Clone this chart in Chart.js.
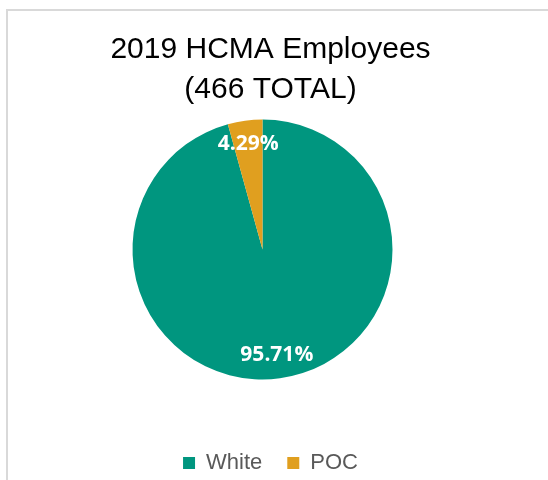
<!DOCTYPE html>
<html>
<head>
<meta charset="utf-8">
<script src="https://cdn.jsdelivr.net/npm/chart.js@4/dist/chart.umd.min.js"></script>
<style>
  html, body { margin: 0; padding: 0; background: #fff; }
  #wrap { position: relative; width: 548px; height: 480px; overflow: hidden; }
  #frame {
    position: absolute; left: 6px; top: 9px; width: 600px; height: 600px;
    border-left: 2px solid #d9d9d9; border-top: 2px solid #d9d9d9;
  }
  #chart { position: absolute; left: 0; top: 0; }
</style>
</head>
<body>
<div id="wrap">
  <div id="frame"></div>
  <canvas id="chart" width="548" height="480"></canvas>
</div>
<script>
// =============================================
// Data
// =============================================
const categories = ['White', 'POC'];
const employees = [446, 20];
const sliceColors = ['#00967F', '#E09F1F'];
const titleLines = ['2019 HCMA Employees', '(466 TOTAL)'];

const total = employees.reduce((a, b) => a + b, 0);

// pie sits a little left of / above the centre of the title+legend column
const PIE_SHIFT_X = -8;
const PIE_SHIFT_Y = -24;

/**
 * Shift the pie and write percentage labels inside each slice
 */
const sliceLabels = {
  id: 'sliceLabels',
  beforeDatasetsDraw(chart) {
    chart.ctx.save();
    chart.ctx.translate(PIE_SHIFT_X, PIE_SHIFT_Y);
  },
  afterDatasetsDraw(chart) {
    const ctx = chart.ctx;
    const meta = chart.getDatasetMeta(0);
    ctx.font = "bold 21px 'Open Sans', sans-serif";
    ctx.fillStyle = '#fff';
    ctx.textAlign = 'center';
    ctx.textBaseline = 'middle';
    meta.data.forEach((arc, i) => {
      const p = arc.getProps(['x', 'y', 'startAngle', 'endAngle', 'outerRadius'], true);
      const mid = (p.startAngle + p.endAngle) / 2;
      const r = p.outerRadius * 0.82;
      const pct = (employees[i] / total * 100).toFixed(2) + '%';
      ctx.fillText(pct, p.x + Math.cos(mid) * r, p.y + Math.sin(mid) * r);
    });
    ctx.restore();
  },
};

new Chart(document.getElementById('chart').getContext('2d'), {
  type: 'pie',
  data: {
    labels: categories,
    datasets: [{
      data: employees,
      backgroundColor: sliceColors,
      borderWidth: 0,
      radius: 130,
    }],
  },
  options: {
    responsive: false,
    animation: false,
    layout: { padding: { left: 0, right: 7, top: 0, bottom: -4 } },
    plugins: {
      title: {
        display: true,
        text: titleLines,
        color: '#000',
        font: { family: "'Liberation Sans', Arial, sans-serif", size: 30, weight: 'normal', lineHeight: 1.333 },
        padding: { top: 30, bottom: 10 },
      },
      legend: {
        position: 'bottom',
        labels: {
          color: '#595959',
          font: { family: "'Liberation Sans', Arial, sans-serif", size: 22 },
          boxWidth: 12,
          boxHeight: 12,
          padding: 25,
        },
      },
      tooltip: { enabled: false },
    },
  },
  plugins: [sliceLabels],
});
</script>
</body>
</html>
